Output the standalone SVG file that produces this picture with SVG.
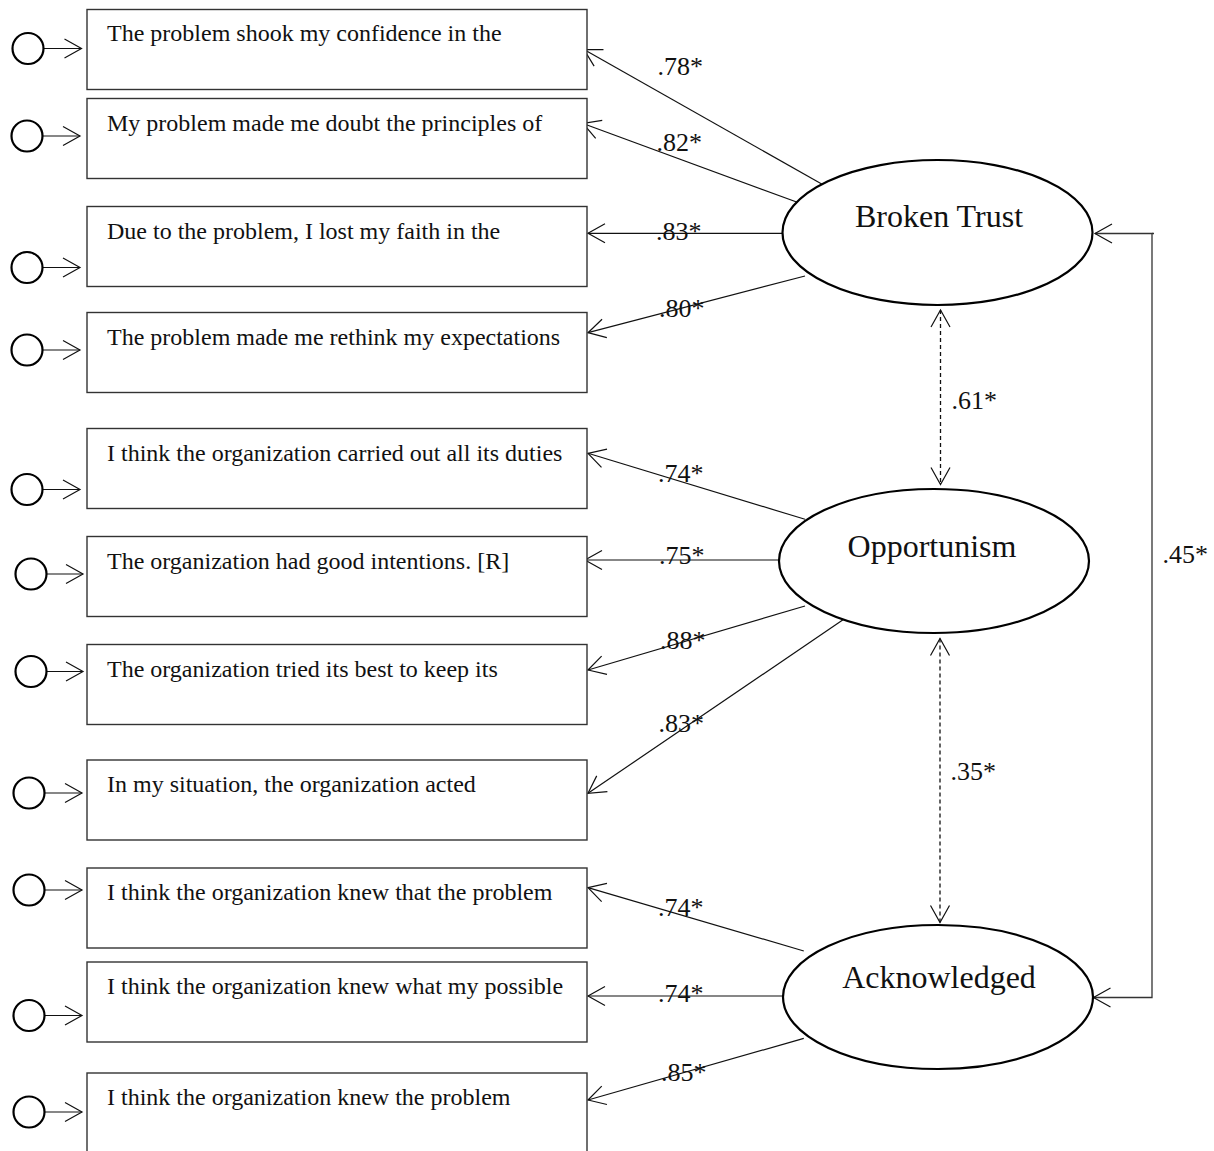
<svg xmlns="http://www.w3.org/2000/svg" width="1214" height="1151" viewBox="0 0 1214 1151">
<style>
.bg{fill:#fff}
.box{fill:#fff;stroke:#333;stroke-width:1.4}
.bt{font-family:"Liberation Serif","Times New Roman",serif;font-size:24px;fill:#111}
.lat{fill:#fff;stroke:#000;stroke-width:2.2}
.lt{font-family:"Liberation Serif","Times New Roman",serif;font-size:32px;fill:#111;text-anchor:middle}
.err{fill:#fff;stroke:#000;stroke-width:2.2}
.ln{fill:none;stroke:#111;stroke-width:1.2;marker-end:url(#ah)}
.dl{fill:none;stroke:#111;stroke-width:1.3;stroke-dasharray:4 3;marker-start:url(#ah);marker-end:url(#ah)}
.cv{fill:none;stroke:#333;stroke-width:1.3;marker-start:url(#ah);marker-end:url(#ah)}
.nm{font-family:"Liberation Serif","Times New Roman",serif;font-size:26px;fill:#111}
</style>
<defs>
<marker id="ah" markerUnits="userSpaceOnUse" markerWidth="20" markerHeight="22" viewBox="-18 -11 20 22" refX="0" refY="0" orient="auto-start-reverse" overflow="visible">
<path d="M-17,-9.5 L0,0 L-17,9.5" fill="none" stroke="#111" stroke-width="1.2"/>
</marker>
</defs>
<rect class="bg" x="0" y="0" width="1214" height="1151"/>

<g id="connectors">
<!-- error terms -->
<line class="ln" x1="43.5" y1="48.5" x2="81.5" y2="48.5"/>
<line class="ln" x1="42.5" y1="136" x2="80" y2="136"/>
<line class="ln" x1="42.5" y1="267.5" x2="80" y2="267.5"/>
<line class="ln" x1="42.5" y1="350" x2="80" y2="350"/>
<line class="ln" x1="42.5" y1="489.5" x2="80" y2="489.5"/>
<line class="ln" x1="46.5" y1="574" x2="83" y2="574"/>
<line class="ln" x1="46.5" y1="671.5" x2="83" y2="671.5"/>
<line class="ln" x1="44.5" y1="793" x2="82" y2="793"/>
<line class="ln" x1="44.5" y1="890" x2="82" y2="890"/>
<line class="ln" x1="44.5" y1="1015.5" x2="82" y2="1015.5"/>
<line class="ln" x1="44.5" y1="1112" x2="82" y2="1112"/>
<!-- loadings Broken Trust -->
<line class="ln" x1="821.7" y1="184" x2="584" y2="49.5"/>
<line class="ln" x1="797.3" y1="202.3" x2="583" y2="123.5"/>
<line class="ln" x1="786.7" y1="233.3" x2="588" y2="233.3"/>
<line class="ln" x1="805" y1="276" x2="588" y2="332.7"/>
<!-- loadings Opportunism -->
<line class="ln" x1="805" y1="519.3" x2="588" y2="453.3"/>
<line class="ln" x1="778.5" y1="560" x2="585" y2="560"/>
<line class="ln" x1="805" y1="606" x2="588" y2="670"/>
<line class="ln" x1="846.7" y1="617.3" x2="588" y2="793.3"/>
<!-- loadings Acknowledged -->
<line class="ln" x1="803.8" y1="951" x2="588" y2="887.7"/>
<line class="ln" x1="783" y1="996" x2="588" y2="996"/>
<line class="ln" x1="803.8" y1="1038.3" x2="588" y2="1100"/>
<!-- correlations -->
<line class="dl" x1="940.5" y1="310" x2="940.5" y2="484.5"/>
<line class="dl" x1="940" y1="638.5" x2="940" y2="922.5"/>
<path class="cv" d="M1095,233.5 H1152 V997.5 H1093.5"/>
<line x1="1152" y1="233.5" x2="1154" y2="233.5" stroke="#333" stroke-width="1.3"/>
<!-- labels -->
<text class="nm" x="657.5" y="75">.78*</text>
<text class="nm" x="656.5" y="150.5">.82*</text>
<text class="nm" x="656" y="240">.83*</text>
<text class="nm" x="659" y="316.5">.80*</text>
<text class="nm" x="658" y="481.5">.74*</text>
<text class="nm" x="659" y="564">.75*</text>
<text class="nm" x="660" y="649">.88*</text>
<text class="nm" x="658.5" y="731.5">.83*</text>
<text class="nm" x="658" y="916">.74*</text>
<text class="nm" x="658" y="1001.5">.74*</text>
<text class="nm" x="661" y="1080.5">.85*</text>
<text class="nm" x="951.5" y="409">.61*</text>
<text class="nm" x="950.5" y="780">.35*</text>
<text class="nm" x="1162.5" y="563">.45*</text>
</g>

<g id="e1"><ellipse class="err" cx="28" cy="48.5" rx="15.5" ry="15.5"/></g>
<g id="e2"><ellipse class="err" cx="27" cy="136" rx="15.5" ry="15.5"/></g>
<g id="e3"><ellipse class="err" cx="27" cy="267.5" rx="15.5" ry="15.5"/></g>
<g id="e4"><ellipse class="err" cx="27" cy="350" rx="15.5" ry="15.5"/></g>
<g id="e5"><ellipse class="err" cx="27" cy="489.5" rx="15.5" ry="15.5"/></g>
<g id="e6"><ellipse class="err" cx="31" cy="574" rx="15.5" ry="15.5"/></g>
<g id="e7"><ellipse class="err" cx="31" cy="671.5" rx="15.5" ry="15.5"/></g>
<g id="e8"><ellipse class="err" cx="29" cy="793" rx="15.5" ry="15.5"/></g>
<g id="e9"><ellipse class="err" cx="29" cy="890" rx="15.5" ry="15.5"/></g>
<g id="e10"><ellipse class="err" cx="29" cy="1015.5" rx="15.5" ry="15.5"/></g>
<g id="e11"><ellipse class="err" cx="29" cy="1112" rx="15.5" ry="15.5"/></g>

<g id="item1"><rect class="box" x="87" y="9.5" width="500" height="80"/><text class="bt" x="107" y="41">The problem shook my confidence in the</text></g>
<g id="item2"><rect class="box" x="87" y="98.5" width="500" height="80"/><text class="bt" x="107" y="130.5">My problem made me doubt the principles of</text></g>
<g id="item3"><rect class="box" x="87" y="206.5" width="500" height="80"/><text class="bt" x="107" y="238.5">Due to the problem, I lost my faith in the</text></g>
<g id="item4"><rect class="box" x="87" y="312.5" width="500" height="80"/><text class="bt" x="107" y="344.5">The problem made me rethink my expectations</text></g>
<g id="item5"><rect class="box" x="87" y="428.5" width="500" height="80"/><text class="bt" x="107" y="460.5">I think the organization carried out all its duties</text></g>
<g id="item6"><rect class="box" x="87" y="536.5" width="500" height="80"/><text class="bt" x="107" y="568.5">The organization had good intentions. [R]</text></g>
<g id="item7"><rect class="box" x="87" y="644.5" width="500" height="80"/><text class="bt" x="107" y="676.5">The organization tried its best to keep its</text></g>
<g id="item8"><rect class="box" x="87" y="760" width="500" height="80"/><text class="bt" x="107" y="792">In my situation, the organization acted</text></g>
<g id="item9"><rect class="box" x="87" y="868" width="500" height="80"/><text class="bt" x="107" y="900">I think the organization knew that the problem</text></g>
<g id="item10"><rect class="box" x="87" y="962" width="500" height="80"/><text class="bt" x="107" y="994">I think the organization knew what my possible</text></g>
<g id="item11"><rect class="box" x="87" y="1073" width="500" height="80"/><text class="bt" x="107" y="1105">I think the organization knew the problem</text></g>

<g id="brokenTrust"><ellipse class="lat" cx="937.5" cy="232.5" rx="155" ry="72.5"/><text class="lt" x="939" y="227">Broken Trust</text></g>
<g id="opportunism"><ellipse class="lat" cx="934" cy="561" rx="155" ry="72"/><text class="lt" x="932" y="557">Opportunism</text></g>
<g id="acknowledged"><ellipse class="lat" cx="938" cy="997" rx="155" ry="72"/><text class="lt" x="939" y="988">Acknowledged</text></g>
</svg>
